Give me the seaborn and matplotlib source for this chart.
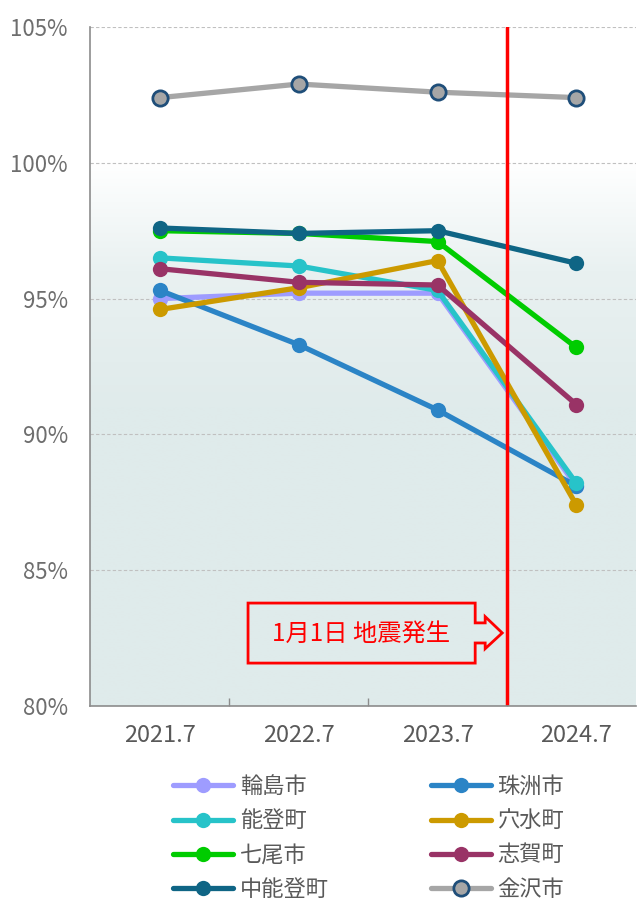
import seaborn as sns
import matplotlib.pyplot as plt
import matplotlib.colors as mcolors
import numpy as np
import pandas as pd

sns.set_theme(style="white")
plt.rcParams['font.family'] = ['Noto Sans CJK JP', 'DejaVu Sans']

# data
periods = ["2021.7", "2022.7", "2023.7", "2024.7"]
wajima = [95.0, 95.2, 95.2, 88.1]
suzu = [95.3, 93.3, 90.9, 88.1]
noto = [96.5, 96.2, 95.3, 88.2]
anamizu = [94.6, 95.4, 96.4, 87.4]
nanao = [97.5, 97.4, 97.1, 93.2]
shika = [96.1, 95.6, 95.5, 91.1]
nakanoto = [97.6, 97.4, 97.5, 96.3]
kanazawa = [102.4, 102.9, 102.6, 102.4]

series = {
    "輪島市": wajima,
    "珠洲市": suzu,
    "能登町": noto,
    "穴水町": anamizu,
    "七尾市": nanao,
    "志賀町": shika,
    "中能登町": nakanoto,
    "金沢市": kanazawa,
}
palette = {
    "輪島市": "#9e9cff",
    "珠洲市": "#2b84c6",
    "能登町": "#27c3c9",
    "穴水町": "#cc9a00",
    "七尾市": "#00cc00",
    "志賀町": "#993366",
    "中能登町": "#0f6585",
    "金沢市": "#a6a6a6",
}

rows = []
for name, vals in series.items():
    for i, v in enumerate(vals):
        rows.append({"name": name, "x": i, "period": periods[i], "value": v})
df = pd.DataFrame(rows)

fig = plt.figure(figsize=(6.37, 9.09), dpi=100)
ax = fig.add_axes([90 / 637, 203 / 909, 546 / 637, 679 / 909])

# gradient background: white at 100% fading to pale teal by ~92%
xl = (-0.505, 3.43)
yl = (80, 105)
grad = np.linspace(0, 1, 256).reshape(-1, 1)
cmap = mcolors.LinearSegmentedColormap.from_list(
    "bg", [(0.0, "#dfebeb"), (0.55, "#e0ebeb"), (0.8, "#e9f1f1"), (1.0, "#ffffff")])
ax.imshow(grad, aspect="auto", cmap=cmap, origin="lower",
          extent=(xl[0], xl[1], 80, 100), zorder=0)

for name in series:
    sub = df[df["name"] == name]
    if name == "金沢市":
        mfc, mec, mew = palette[name], "#1f4e79", 2
    else:
        mfc, mec, mew = palette[name], palette[name], 0
    sns.lineplot(data=sub, x="x", y="value", ax=ax, color=palette[name],
                 linewidth=3.8, marker="o", markersize=11, markerfacecolor=mfc,
                 markeredgecolor=mec, markeredgewidth=mew, label=name,
                 zorder=3)

# earthquake line
ax.axvline(2.5, color="#ff0000", linewidth=2.5, zorder=4)

# callout arrow box
box_x = [0.634, 2.271, 2.271, 2.343, 2.343, 2.466, 2.343, 2.343, 2.271, 2.271, 0.634]
box_y = [83.79, 83.79, 83.06, 83.06, 83.29, 82.69, 82.11, 82.32, 82.32, 81.58, 81.58]
ax.fill(box_x, box_y, facecolor="none", edgecolor="#ff0000", linewidth=2,
        joinstyle="miter", zorder=4)
ax.text(1.45, 82.66, "1月1日 地震発生", color="#ff0000", fontsize=17.5,
        ha="center", va="center", zorder=5)

ax.set_xlim(*xl)
ax.set_ylim(*yl)
ax.set_yticks([80, 85, 90, 95, 100, 105])
ax.set_yticklabels([f"{v}%" for v in [80, 85, 90, 95, 100, 105]])
ax.set_xticks([0.5, 1.5, 2.5])
ax.set_xticks([0, 1, 2, 3], minor=True)
ax.set_xticklabels([])
ax.set_xticklabels(periods, minor=True)
ax.tick_params(axis="x", which="major", direction="in", length=6, width=1,
               color="#8c8c8c", bottom=True)
ax.tick_params(axis="x", which="minor", length=0, pad=13, labelsize=17,
               labelcolor="#595959")
ax.tick_params(axis="y", length=0, pad=16, labelsize=16, labelcolor="#6e6e6e")
ax.set_xlabel("")
ax.set_ylabel("")

ax.grid(axis="y", color="#c0c0c0", linestyle=(0, (3, 2)), linewidth=0.8)
ax.set_axisbelow(True)
for s in ["top", "right"]:
    ax.spines[s].set_visible(False)
for s in ["left", "bottom"]:
    ax.spines[s].set_color("#8c8c8c")
    ax.spines[s].set_linewidth(1.2)
    ax.spines[s].set_zorder(5)

handles, labels = ax.get_legend_handles_labels()
order = [0, 2, 4, 6, 1, 3, 5, 7]
leg = ax.legend([handles[i] for i in order], [labels[i] for i in order],
                ncol=2, loc="upper left", bbox_to_anchor=(0.152, -0.102),
                frameon=False, fontsize=16, handlelength=2.7,
                columnspacing=4.6, labelspacing=0.5, handletextpad=0.3,
                borderpad=0, borderaxespad=0, labelcolor="#595959")

fig.savefig("out.png", dpi=100)
